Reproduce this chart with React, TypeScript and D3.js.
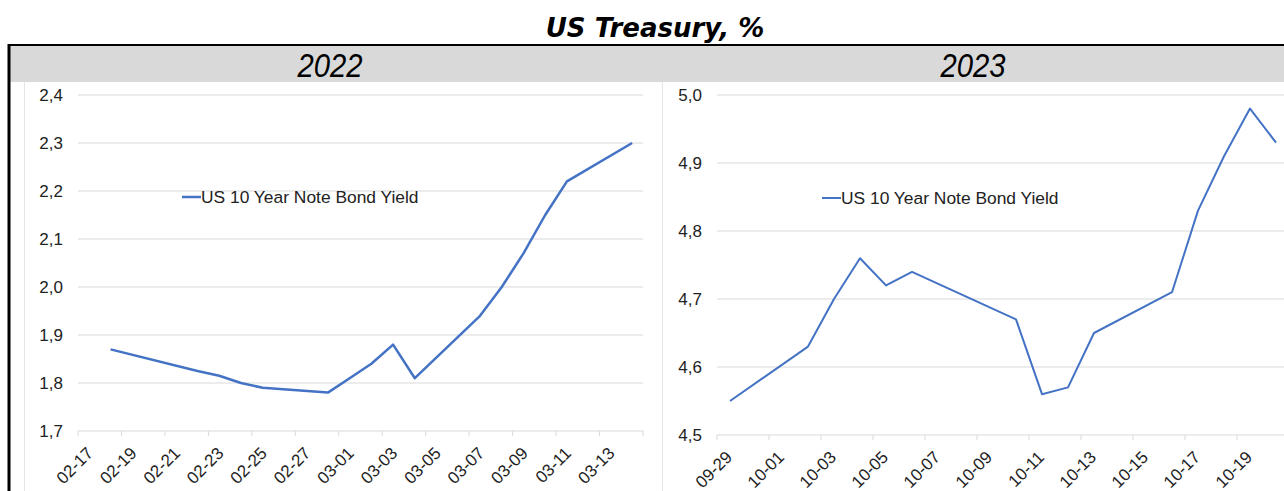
import React from "react";
import * as d3 from "d3";

const title = "US Treasury, %";
const seriesName = "US 10 Year Note Bond Yield";

const leftYear = "2022";
const leftDates = ["2022-02-18", "2022-02-22", "2022-02-23", "2022-02-24", "2022-02-25", "2022-02-28", "2022-03-01", "2022-03-02", "2022-03-03", "2022-03-04", "2022-03-07", "2022-03-08", "2022-03-09", "2022-03-10", "2022-03-11", "2022-03-14"];
const leftValues = [1.87, 1.825, 1.815, 1.8, 1.79, 1.78, 1.81, 1.84, 1.88, 1.81, 1.94, 2.0, 2.07, 2.15, 2.22, 2.3];
const leftTicks = ["2022-02-17", "2022-02-19", "2022-02-21", "2022-02-23", "2022-02-25", "2022-02-27", "2022-03-01", "2022-03-03", "2022-03-05", "2022-03-07", "2022-03-09", "2022-03-11", "2022-03-13", "2022-03-15"];
const leftYTicks = [1.7, 1.8, 1.9, 2.0, 2.1, 2.2, 2.3, 2.4];

const rightYear = "2023";
const rightDates = ["2023-09-29", "2023-10-02", "2023-10-03", "2023-10-04", "2023-10-05", "2023-10-06", "2023-10-10", "2023-10-11", "2023-10-12", "2023-10-13", "2023-10-16", "2023-10-17", "2023-10-18", "2023-10-19", "2023-10-20"];
const rightValues = [4.55, 4.63, 4.7, 4.76, 4.72, 4.74, 4.67, 4.56, 4.57, 4.65, 4.71, 4.83, 4.91, 4.98, 4.93];
const rightTicks = ["2023-09-29", "2023-10-01", "2023-10-03", "2023-10-05", "2023-10-07", "2023-10-09", "2023-10-11", "2023-10-13", "2023-10-15", "2023-10-17", "2023-10-19", "2023-10-21"];
const rightYTicks = [4.5, 4.6, 4.7, 4.8, 4.9, 5.0];

const BLUE = "#4472C4";
const GRID = "#d9d9d9";
const FONT = "'Liberation Sans', Arial, sans-serif";

const parse = d3.utcParse("%Y-%m-%d");
const fmtTick = d3.utcFormat("%m-%d");
const fmtY = (v: number) => v.toFixed(1).replace(".", ",");

type PanelProps = {
  dates: string[];
  values: number[];
  ticks: string[];
  yTicks: number[];
  x0: number;
  x1: number;
  yTop: number;
  yBottom: number;
  legendX: number;
  legendY: number;
  strokeW: number;
};

function Panel(p: PanelProps) {
  const start = parse(p.ticks[0])!;
  const end = parse(p.ticks[p.ticks.length - 1])!;
  const x = d3.scaleUtc().domain([start, end]).range([p.x0, p.x1]);
  const y = d3
    .scaleLinear()
    .domain([p.yTicks[0], p.yTicks[p.yTicks.length - 1]])
    .range([p.yBottom, p.yTop]);
  // Excel date axis: each value sits in the middle of its day
  const pts = p.dates.map((d, i) => ({ t: d3.utcHour.offset(parse(d)!, 12), v: p.values[i] }));
  const line = d3
    .line<{ t: Date; v: number }>()
    .x((d) => x(d.t))
    .y((d) => y(d.v));

  return (
    <g>
      {p.yTicks.map((v) => (
        <g key={v}>
          <line x1={p.x0} x2={p.x1} y1={y(v)} y2={y(v)} stroke={GRID} strokeWidth={1} />
          <text x={p.x0 - 15} y={y(v)} dy="0.35em" textAnchor="end" fontSize={17} fontFamily={FONT} fill="#222">
            {fmtY(v)}
          </text>
        </g>
      ))}
      {p.ticks.map((t, i) => {
        const tx = x(parse(t)!);
        return (
          <g key={t}>
            <line x1={tx} x2={tx} y1={p.yBottom} y2={p.yBottom + 5} stroke={GRID} />
            {i < p.ticks.length - 1 && (
              <text
                transform={`translate(${tx + 12},${p.yBottom + 19}) rotate(-45)`}
                textAnchor="end"
                dy="0.35em"
                fontSize={17}
                fontFamily={FONT}
                fill="#222"
              >
                {fmtTick(parse(t)!)}
              </text>
            )}
          </g>
        );
      })}
      <path d={line(pts) ?? ""} fill="none" stroke={BLUE} strokeWidth={p.strokeW} strokeLinejoin="round" />
      <line x1={p.legendX} x2={p.legendX + 19} y1={p.legendY} y2={p.legendY} stroke={BLUE} strokeWidth={p.strokeW} />
      <text x={p.legendX + 19} y={p.legendY} dy="0.35em" fontSize={17.4} fontFamily={FONT} fill="#222">
        {seriesName}
      </text>
    </g>
  );
}

export default function App() {
  const W = 1284;
  const H = 491;
  const yearFont = "'Liberation Sans', sans-serif";
  return (
    <svg width={W} height={H} style={{ position: "absolute", left: 0, top: 0, background: "#fff" }}>
      <text
        x={655}
        y={37}
        textAnchor="middle"
        fontSize={26}
        fontWeight="bold"
        fontStyle="italic"
        fontFamily="'DejaVu Sans', Verdana, sans-serif"
        fill="#000"
      >
        {title}
      </text>
      <rect x={10} y={45} width={W} height={37} fill="#d9d9d9" />
      <line x1={9} x2={W} y1={45} y2={45} stroke="#000" strokeWidth={2} />
      <line x1={9} x2={9} y1={44} y2={H} stroke="#000" strokeWidth={3} />
      <line x1={24.5} x2={24.5} y1={82} y2={H} stroke="#e6e6e6" />
      <line x1={662.5} x2={662.5} y1={82} y2={H} stroke="#e6e6e6" />
      <text transform="translate(330,65) scale(0.86,1)" dy="0.35em" textAnchor="middle" fontSize={34} fontStyle="italic" fontFamily={yearFont} fill="#000">
        {leftYear}
      </text>
      <text transform="translate(973,65) scale(0.86,1)" dy="0.35em" textAnchor="middle" fontSize={34} fontStyle="italic" fontFamily={yearFont} fill="#000">
        {rightYear}
      </text>
      <Panel
        dates={leftDates}
        values={leftValues}
        ticks={leftTicks}
        yTicks={leftYTicks}
        x0={78}
        x1={643}
        yTop={95}
        yBottom={431}
        legendX={182}
        legendY={197}
        strokeW={2.5}
      />
      <Panel
        dates={rightDates}
        values={rightValues}
        ticks={rightTicks}
        yTicks={rightYTicks}
        x0={717}
        x1={1289}
        yTop={95}
        yBottom={435}
        legendX={822}
        legendY={198}
        strokeW={2}
      />
    </svg>
  );
}
